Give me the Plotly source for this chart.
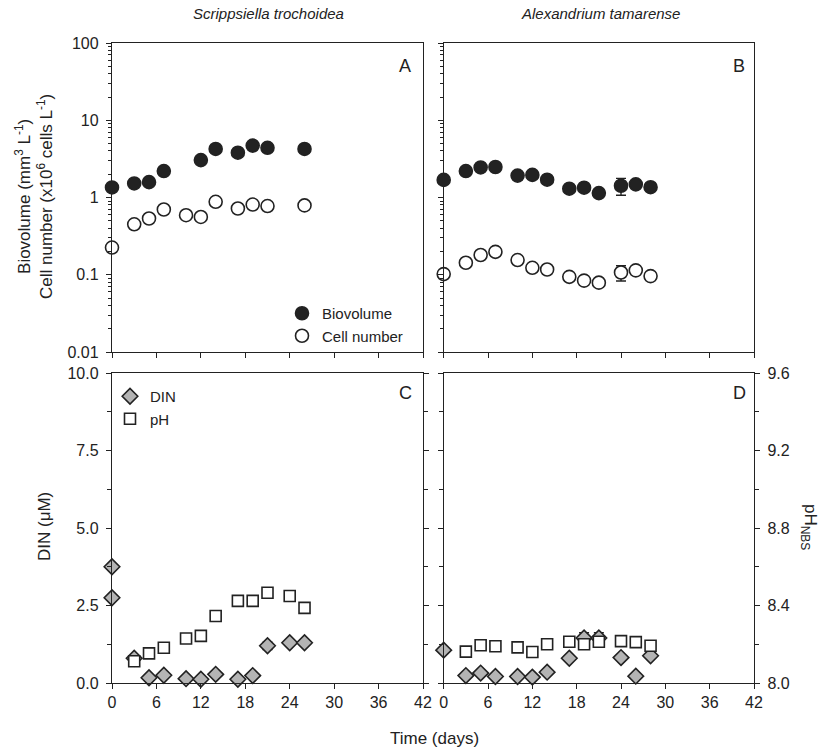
import plotly.graph_objects as go

# ---------------- data ----------------
# Panel A: Scrippsiella trochoidea
a_bio_days = [0, 3, 5, 7, 12, 14, 17, 19, 21, 26]
a_bio = [1.35, 1.52, 1.58, 2.2, 3.05, 4.25, 3.8, 4.7, 4.4, 4.25]
a_bio_err = [0, 0, 0, 0.15, 0, 0, 0, 0, 0, 0]
a_cell_days = [0, 3, 5, 7, 10, 12, 14, 17, 19, 21, 26]
a_cell = [0.225, 0.45, 0.535, 0.70, 0.59, 0.56, 0.88, 0.72, 0.81, 0.775, 0.79]
a_cell_err = [0, 0, 0, 0, 0, 0.06, 0, 0, 0, 0.07, 0]

# Panel B: Alexandrium tamarense
b_days = [0, 3, 5, 7, 10, 12, 14, 17, 19, 21, 24, 26, 28]
b_bio = [1.69, 2.2, 2.45, 2.48, 1.92, 1.96, 1.70, 1.30, 1.34, 1.14, 1.42, 1.48, 1.36]
b_bio_err = [0, 0, 0, 0, 0, 0, 0, 0, 0, 0, 0.35, 0, 0]
b_cell = [0.102, 0.143, 0.180, 0.198, 0.155, 0.123, 0.117, 0.094, 0.084, 0.079, 0.107, 0.114, 0.096]
b_cell_err = [0, 0.01, 0, 0, 0, 0, 0, 0, 0, 0, 0.024, 0, 0]

# Panel C: DIN (uM) and pH
c_din_days = [0, 0, 3, 5, 7, 10, 12, 14, 17, 19, 21, 24, 26]
c_din = [3.75, 2.75, 0.80, 0.17, 0.25, 0.14, 0.12, 0.28, 0.12, 0.24, 1.2, 1.3, 1.3]
c_din_err = [0, 0, 0, 0, 0.08, 0, 0, 0, 0.08, 0, 0.12, 0, 0]
c_ph_days = [3, 5, 7, 10, 12, 14, 17, 19, 21, 24, 26]
c_ph = [8.112, 8.153, 8.182, 8.230, 8.243, 8.346, 8.424, 8.424, 8.466, 8.449, 8.388]

# Panel D: DIN (uM) and pH
d_din_days = [0, 3, 5, 7, 10, 12, 14, 17, 19, 21, 24, 26, 28]
d_din = [1.06, 0.24, 0.32, 0.21, 0.21, 0.19, 0.35, 0.80, 1.45, 1.45, 0.82, 0.22, 0.88]
d_din_err = [0, 0.05, 0, 0, 0, 0, 0.05, 0.07, 0.17, 0.17, 0, 0.05, 0]
d_ph_days = [3, 5, 7, 10, 12, 14, 17, 19, 21, 24, 26, 28]
d_ph = [8.162, 8.195, 8.19, 8.184, 8.16, 8.20, 8.213, 8.20, 8.213, 8.216, 8.211, 8.192]

x_ticks = [0, 6, 12, 18, 24, 30, 36, 42]
log_ticks = [0.01, 0.1, 1, 10, 100]
log_labels = ["0.01", "0.1", "1", "10", "100"]
din_ticks = [0, 2.5, 5, 7.5, 10]
din_labels = ["0.0", "2.5", "5.0", "7.5", "10.0"]
ph_ticks = [8.0, 8.4, 8.8, 9.2, 9.6]
ph_labels = ["8.0", "8.4", "8.8", "9.2", "9.6"]

# ---------------- style ----------------
FONT = "Liberation Sans Narrow, Liberation Sans, Arial, sans-serif"
INK = "#222222"
GREY = "#b4b4b4"
W, H = 819, 753

def px_x(p):
    return p / W

def px_y(p):
    return 1 - p / H

xA = [px_x(112), px_x(423)]
xB = [px_x(443.7), px_x(754)]
yTop = [px_y(352), px_y(43)]
yBot = [px_y(683), px_y(373)]

fig = go.Figure()

circ = dict(size=13, line=dict(color=INK, width=1.6))
err_style = dict(type="data", color=INK, thickness=1.4, width=5)

# Panel A
fig.add_trace(go.Scatter(x=a_bio_days, y=a_bio, mode="markers", name="Biovolume",
                         marker=dict(symbol="circle", color=INK, **circ),
                         error_y=dict(array=a_bio_err, **err_style),
                         xaxis="x", yaxis="y", legend="legend", cliponaxis=False))
fig.add_trace(go.Scatter(x=a_cell_days, y=a_cell, mode="markers", name="Cell number",
                         marker=dict(symbol="circle", color="white", **circ),
                         error_y=dict(array=a_cell_err, **err_style),
                         xaxis="x", yaxis="y", legend="legend", cliponaxis=False))
# Panel B
fig.add_trace(go.Scatter(x=b_days, y=b_bio, mode="markers", showlegend=False,
                         marker=dict(symbol="circle", color=INK, **circ),
                         error_y=dict(array=b_bio_err, **err_style),
                         xaxis="x2", yaxis="y2", cliponaxis=False))
fig.add_trace(go.Scatter(x=b_days, y=b_cell, mode="markers", showlegend=False,
                         marker=dict(symbol="circle", color="white", **circ),
                         error_y=dict(array=b_cell_err, **err_style),
                         xaxis="x2", yaxis="y2", cliponaxis=False))

dia = dict(symbol="diamond", size=12, color=GREY, line=dict(color=INK, width=1.6))
sq = dict(symbol="square", size=11, color="white", line=dict(color=INK, width=1.6))

# Panel C
fig.add_trace(go.Scatter(x=c_din_days, y=c_din, mode="markers", name="DIN",
                         marker=dia, error_y=dict(array=c_din_err, **err_style),
                         xaxis="x3", yaxis="y3", legend="legend2", cliponaxis=False))
fig.add_trace(go.Scatter(x=c_ph_days, y=c_ph, mode="markers", name="pH",
                         marker=sq, xaxis="x3", yaxis="y5", legend="legend2", cliponaxis=False))
# Panel D
fig.add_trace(go.Scatter(x=d_din_days, y=d_din, mode="markers", showlegend=False,
                         marker=dia, error_y=dict(array=d_din_err, **err_style),
                         xaxis="x4", yaxis="y4", cliponaxis=False))
fig.add_trace(go.Scatter(x=d_ph_days, y=d_ph, mode="markers", showlegend=False,
                         marker=sq, xaxis="x4", yaxis="y6", cliponaxis=False))

tickfont = dict(family=FONT, size=16, color=INK)
base = dict(showline=True, linecolor=INK, linewidth=1.4, ticks="outside", ticklen=5,
            tickwidth=1.3, tickcolor=INK, showgrid=False, zeroline=False,
            tickfont=tickfont, automargin=False)

def xax(domain, labels, anchor):
    return dict(base, domain=domain, range=[0, 42], tickvals=x_ticks,
                ticktext=[str(t) for t in x_ticks], showticklabels=labels,
                mirror=True, anchor=anchor)

logminor = dict(dtick="D1", ticks="outside", ticklen=3, tickcolor=INK, tickwidth=1, showgrid=False)
dinminor = dict(tickvals=[1.25, 3.75, 6.25, 8.75], ticks="outside", ticklen=4, tickcolor=INK,
                tickwidth=1.2, showgrid=False)
phminor = dict(tickvals=[8.2, 8.6, 9.0, 9.4], ticks="outside", ticklen=4, tickcolor=INK,
               tickwidth=1.2, showgrid=False)

fig.update_layout(
    width=W, height=H,
    margin=dict(l=0, r=0, t=0, b=0),
    paper_bgcolor="white", plot_bgcolor="white",
    font=dict(family=FONT, color=INK, size=14),
    xaxis=xax(xA, False, "y"),
    xaxis2=xax(xB, False, "y2"),
    xaxis3=xax(xA, True, "y3"),
    xaxis4=xax(xB, True, "y4"),
    yaxis=dict(base, domain=yTop, type="log", range=[-2, 2], tickvals=log_ticks,
               ticktext=log_labels, minor=logminor, mirror=True, anchor="x",
               ticklabelstandoff=4),
    yaxis2=dict(base, domain=yTop, type="log", range=[-2, 2], tickvals=log_ticks,
                showticklabels=False, minor=logminor, mirror=True, anchor="x2"),
    yaxis3=dict(base, domain=yBot, range=[0, 10], tickvals=din_ticks, ticktext=din_labels,
                minor=dinminor, mirror="ticks", anchor="x3", ticklabelstandoff=4),
    yaxis4=dict(base, domain=yBot, range=[0, 10], tickvals=din_ticks, showticklabels=False,
                minor=dinminor, anchor="x4"),
    yaxis5=dict(domain=yBot, range=[8.0, 9.6], overlaying="y3", visible=False, anchor="x3"),
    yaxis6=dict(base, domain=yBot, range=[8.0, 9.6], overlaying="y4", side="right",
                tickvals=ph_ticks, ticktext=ph_labels, minor=phminor, anchor="x4",
                ticklabelstandoff=4),
    legend=dict(x=px_x(282), y=px_y(297), xanchor="left", yanchor="top",
                bgcolor="rgba(0,0,0,0)", font=dict(family=FONT, size=15, color=INK),
                tracegroupgap=0, itemsizing="trace"),
    legend2=dict(x=px_x(110), y=px_y(380), xanchor="left", yanchor="top",
                 bgcolor="rgba(0,0,0,0)", font=dict(family=FONT, size=15, color=INK),
                 tracegroupgap=0, itemsizing="trace"),
)

def ann(text, x, y, size=14, angle=0, italic=False, xanchor="center", yanchor="middle"):
    if italic:
        text = "<i>" + text + "</i>"
    fig.add_annotation(text=text, x=px_x(x), y=px_y(y), xref="paper", yref="paper",
                       showarrow=False, textangle=angle, xanchor=xanchor, yanchor=yanchor,
                       font=dict(family=FONT, size=size, color=INK))

ann("Scrippsiella trochoidea", 268, 14, size=15, italic=True)
ann("Alexandrium tamarense", 600, 14, size=15, italic=True)
ann("A", 405, 66, size=18)
ann("B", 739, 66, size=18)
ann("C", 405, 393, size=18)
ann("D", 739, 393, size=18)
ann("Biovolume (mm<sup>3</sup> L<sup>-1</sup>)<br>Cell number (x10<sup>6</sup> cells L<sup>-1</sup>)",
    34, 197, size=17, angle=-90)
ann("DIN (μM)", 44, 527, size=17, angle=-90)
ann("pH<sub>NBS</sub>", 809, 527, size=17, angle=90)
ann("Time (days)", 434, 738, size=17)

fig.write_html("out.html")
